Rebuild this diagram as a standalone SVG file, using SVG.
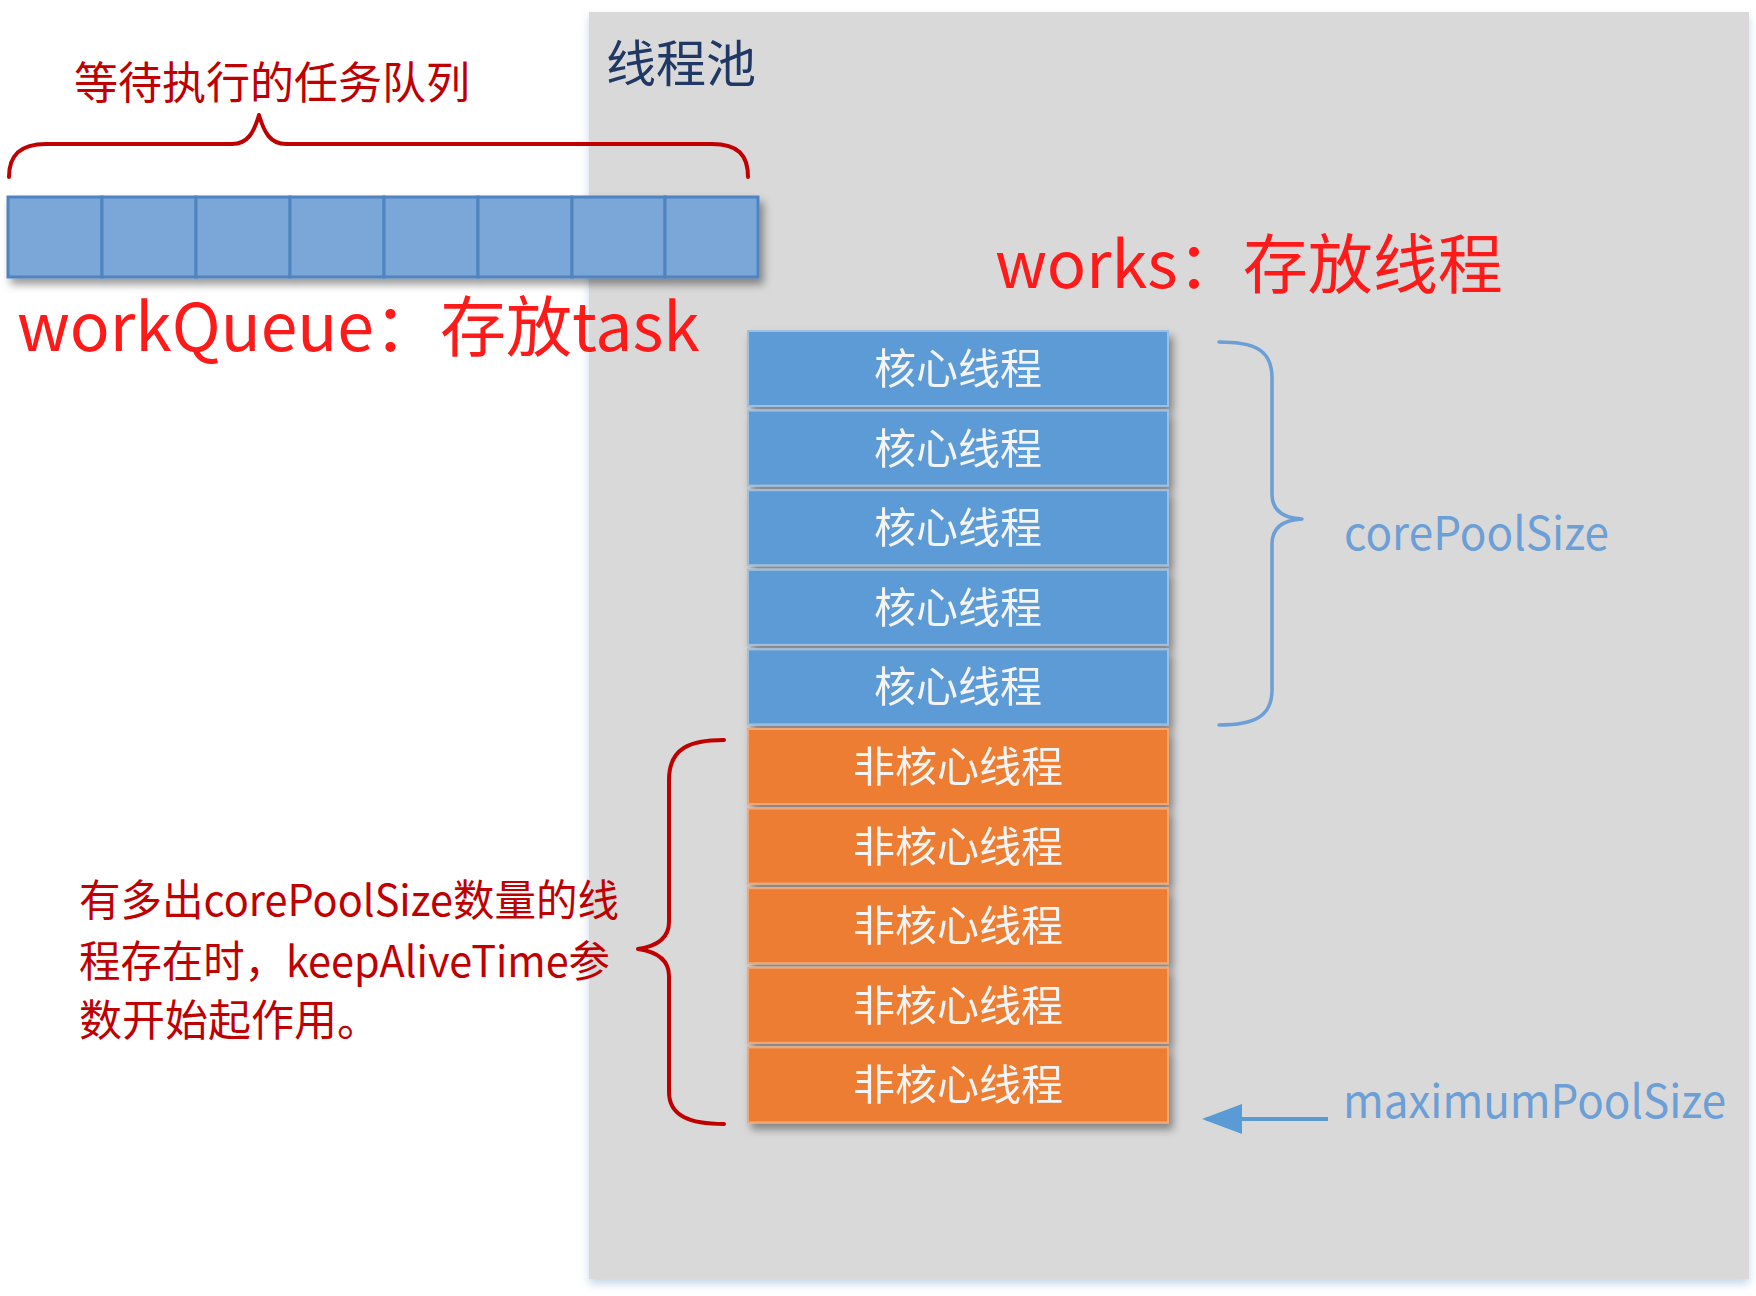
<svg xmlns="http://www.w3.org/2000/svg" width="1756" height="1296" viewBox="0 0 1756 1296">
<defs>
<style>
.cjk{font-family:"Noto Sans CJK SC","Liberation Sans",sans-serif;}
.core rect{fill:#5b9bd5;stroke:#9fbfe0;stroke-width:2;}
.noncore rect{fill:#ed7d31;stroke:#f0a878;stroke-width:2;}
.tt{fill:#f4f4f4;font-size:42px;text-anchor:middle;}
.cell{fill:#7aa7d8;stroke:#4f84c0;stroke-width:3;}
.redbrace{fill:none;stroke:#c00000;stroke-width:4;stroke-linecap:round;stroke-linejoin:round;}
.bluebrace{fill:none;stroke:#6c9fd6;stroke-width:3.5;stroke-linecap:round;stroke-linejoin:round;}
.bluelabel{fill:#6c9fd6;font-size:46px;}
.note{fill:#c00000;font-size:43px;}
</style>
<filter id="shadow" x="-10%" y="-10%" width="130%" height="140%">
<feDropShadow dx="4" dy="6" stdDeviation="4" flood-color="#000" flood-opacity="0.4"/>
</filter>
<filter id="panelShadow" x="-5%" y="-5%" width="110%" height="110%">
<feDropShadow dx="0" dy="5" stdDeviation="4" flood-color="#b8cde6" flood-opacity="0.8"/>
</filter>
<marker id="arrowhead" viewBox="0 0 40 30" markerUnits="userSpaceOnUse" markerWidth="40" markerHeight="30" refX="36" refY="15" orient="auto">
<path d="M0,0 L40,15 L0,30 z" fill="#5b9bd5"/>
</marker>
</defs>

<rect width="1756" height="1296" fill="#ffffff"/>

<g id="thread-pool">
<rect x="589" y="12" width="1160" height="1267" fill="#d9d9d9" filter="url(#panelShadow)"/>
<text x="606" y="82" class="cjk" font-size="50" fill="#1f3864">线程池</text>
</g>

<g id="queue-label">
<text x="74" y="99" class="cjk" font-size="44" fill="#c00000">等待执行的任务队列</text>
</g>

<g id="work-queue">
<g filter="url(#shadow)">
<rect class="cell" x="8" y="197" width="94" height="80"/>
<rect class="cell" x="102" y="197" width="94" height="80"/>
<rect class="cell" x="196" y="197" width="94" height="80"/>
<rect class="cell" x="290" y="197" width="94" height="80"/>
<rect class="cell" x="384" y="197" width="94" height="80"/>
<rect class="cell" x="478" y="197" width="94" height="80"/>
<rect class="cell" x="572" y="197" width="93" height="80"/>
<rect class="cell" x="665" y="197" width="93" height="80"/>
</g>
<text x="17" y="351" class="cjk" font-size="66" fill="#ff1a1a">workQueue：存放task</text>
</g>

<g id="works-label">
<text x="995" y="288" class="cjk" font-size="65" fill="#ff1a1a">works：存放线程</text>
</g>

<g id="threads" filter="url(#shadow)">
<g id="core-1" class="core"><rect x="748" y="331" width="420" height="75"/><text class="cjk tt" x="958" y="384">核心线程</text></g>
<g id="core-2" class="core"><rect x="748" y="410.6" width="420" height="75"/><text class="cjk tt" x="958" y="463.6">核心线程</text></g>
<g id="core-3" class="core"><rect x="748" y="490.2" width="420" height="75"/><text class="cjk tt" x="958" y="543.2">核心线程</text></g>
<g id="core-4" class="core"><rect x="748" y="569.8" width="420" height="75"/><text class="cjk tt" x="958" y="622.8">核心线程</text></g>
<g id="core-5" class="core"><rect x="748" y="649.4" width="420" height="75"/><text class="cjk tt" x="958" y="702.4">核心线程</text></g>
<g id="noncore-1" class="noncore"><rect x="748" y="729" width="420" height="75"/><text class="cjk tt" x="958" y="782">非核心线程</text></g>
<g id="noncore-2" class="noncore"><rect x="748" y="808.6" width="420" height="75"/><text class="cjk tt" x="958" y="861.6">非核心线程</text></g>
<g id="noncore-3" class="noncore"><rect x="748" y="888.2" width="420" height="75"/><text class="cjk tt" x="958" y="941.2">非核心线程</text></g>
<g id="noncore-4" class="noncore"><rect x="748" y="967.8" width="420" height="75"/><text class="cjk tt" x="958" y="1020.8">非核心线程</text></g>
<g id="noncore-5" class="noncore"><rect x="748" y="1047.4" width="420" height="75"/><text class="cjk tt" x="958" y="1100.4">非核心线程</text></g>
</g>

<g id="core-pool-size-label">
<text x="1344" y="550" class="cjk bluelabel" textLength="265" lengthAdjust="spacingAndGlyphs">corePoolSize</text>
</g>

<g id="maximum-pool-size-label">
<text x="1343" y="1118" class="cjk bluelabel" textLength="383" lengthAdjust="spacingAndGlyphs">maximumPoolSize</text>
</g>

<g id="note">
<text class="cjk note" x="79" y="916" textLength="540" lengthAdjust="spacingAndGlyphs">有多出corePoolSize数量的线</text>
<text class="cjk note" x="79" y="977" textLength="531" lengthAdjust="spacingAndGlyphs">程存在时，keepAliveTime参</text>
<text class="cjk note" x="79" y="1036">数开始起作用。</text>
</g>

<g id="connectors">
<path class="redbrace" d="M9 177 C9 155 20 144 46 144 L232 144 C248 144 254 132 259 115 C264 132 270 144 286 144 L712 144 C738 144 748 155 748 177"/>
<path class="bluebrace" d="M1219 342 C1255 342 1272 350 1272 378 L1272 494 C1272 510 1282 518 1302 519 C1282 520 1272 528 1272 544 L1272 690 C1272 716 1255 725 1219 725"/>
<path class="redbrace" stroke-width="4.5" d="M724 740 C690 740 669 748 669 780 L669 922 C669 938 658 946 638 949 C658 952 669 960 669 976 L669 1092 C669 1116 690 1124 724 1124"/>
<line x1="1328" y1="1119" x2="1206" y2="1119" stroke="#5b9bd5" stroke-width="4" marker-end="url(#arrowhead)"/>
</g>
</svg>
